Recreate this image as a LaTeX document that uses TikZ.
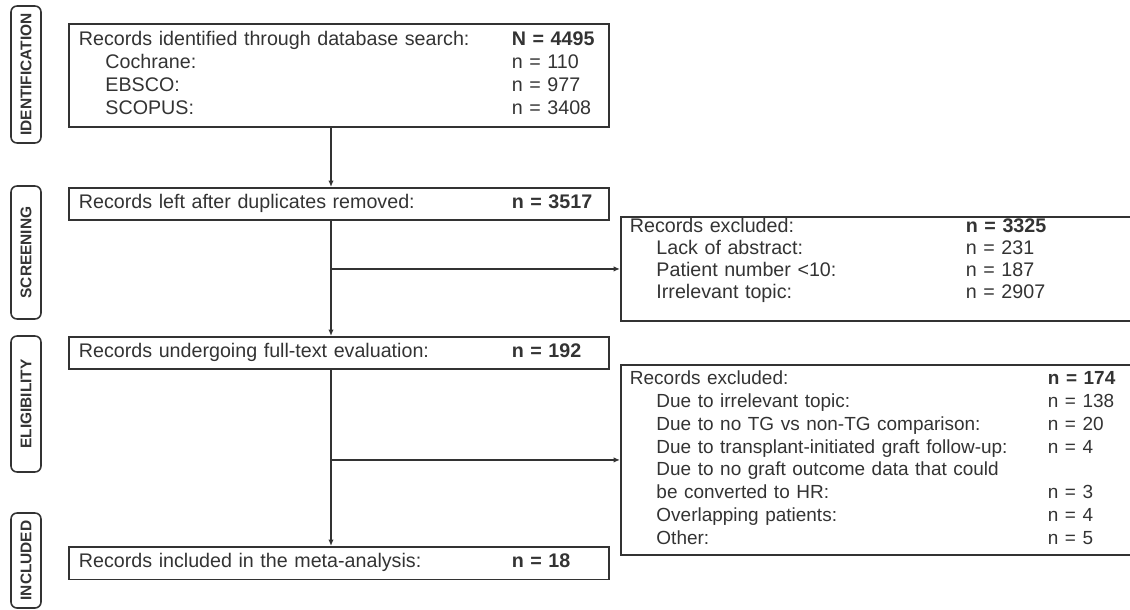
\documentclass[tikz,border=0pt]{standalone}
\usepackage{fontspec}
\setmainfont{Liberation Sans}
\usetikzlibrary{arrows.meta, positioning, calc}

\definecolor{ink}{gray}{0.2}
\newcommand{\tabin}{\hspace*{0.53cm}}

\begin{document}
\begin{tikzpicture}[
  x=0.02cm, y=-0.02cm,
  every node/.style={font=\fontsize{11.2}{13}\selectfont, text=ink},
  stage/.style={draw=ink, line width=0.9pt, rounded corners=0.12cm, rotate=90,
                minimum height=0.6cm, inner sep=0pt,
                font=\fontsize{8.8}{10}\selectfont\bfseries},
  mainbox/.style={draw=ink, line width=1.1pt, anchor=north west,
                  inner xsep=0.2cm, inner ysep=0pt, text width=10.4cm,
                  align=left, minimum height=0.65cm},
  exbox/.style={draw=ink, line width=1.1pt, anchor=north west,
                inner xsep=0.18cm, inner ysep=0pt, text width=10.04cm,
                align=left},
  arr/.style={draw=ink, line width=0.8pt, -{Latex[length=1.3mm, width=1.1mm]}},
]
  \useasboundingbox (0,0) rectangle (1130,609);
  \clip (0,0) rectangle (1130,609);

  % Stage labels
  \node[stage, minimum width=2.74cm] (sIdent) at (26,74.5) {IDENTIFICATION};
  \node[stage, minimum width=2.66cm] (sScreen) at (26,252.5) {SCREENING};
  \node[stage, minimum width=2.72cm] (sElig) at (26,404) {ELIGIBILITY};
  \node[stage, minimum width=1.9cm] (sIncl) at (26,560.5) {INCLUDED};

  % Main column
  \node[mainbox, minimum height=2.06cm] (ident) at (68,23) {%
    \begin{tabular}{@{}p{8.66cm}@{}l@{}}
      Records identified through database search: & \textbf{N = 4495}\\
      \tabin Cochrane: & n = 110\\
      \tabin EBSCO: & n = 977\\
      \tabin SCOPUS: & n = 3408
    \end{tabular}};
  \node[mainbox] (dupl) at (68,187) {%
    \begin{tabular}{@{}p{8.66cm}@{}l@{}}
      Records left after duplicates removed: & \textbf{n = 3517}
    \end{tabular}};
  \node[mainbox] (fulltext) at (68,336) {%
    \begin{tabular}{@{}p{8.66cm}@{}l@{}}
      Records undergoing full-text evaluation: & \textbf{n = 192}
    \end{tabular}};
  \node[mainbox] (incl) at (68,546) {%
    \begin{tabular}{@{}p{8.66cm}@{}l@{}}
      Records included in the meta-analysis: & \textbf{n = 18}
    \end{tabular}};

  % Exclusions
  \node[exbox, minimum height=2.08cm] (excl1) at (620,216) {%
    \fontsize{11.2}{12.5}\selectfont
    \begin{tabular}{@{}p{6.72cm}@{}l@{}}
      Records excluded: & \textbf{n = 3325}\\
      \tabin Lack of abstract: & n = 231\\
      \tabin Patient number <10: & n = 187\\
      \tabin Irrelevant topic: & n = 2907\\[0.32cm]
    \end{tabular}};
  \node[exbox, minimum height=3.8cm] (excl2) at (620,364) {%
    \fontsize{10.8}{13}\selectfont
    \begin{tabular}{@{}p{8.36cm}@{}l@{}}
      Records excluded: & \textbf{n = 174}\\
      \tabin Due to irrelevant topic: & n = 138\\
      \tabin Due to no TG vs non-TG comparison: & n = 20\\
      \tabin Due to transplant-initiated graft follow-up: & n = 4\\
      \tabin Due to no graft outcome data that could & \\
      \tabin be converted to HR: & n = 3\\
      \tabin Overlapping patients: & n = 4\\
      \tabin Other: & n = 5
    \end{tabular}};

  % Connectors
  \coordinate (spine) at (331,0);
  \draw[arr] (ident.south -| spine) -- (dupl.north -| spine);
  \draw[arr] (dupl.south -| spine) -- (fulltext.north -| spine);
  \draw[arr] (fulltext.south -| spine) -- (incl.north -| spine);
  \draw[arr] (spine |- excl1.west) -- (excl1.west);
  \draw[arr] (spine |- excl2.west) -- (excl2.west);
\end{tikzpicture}
\end{document}
